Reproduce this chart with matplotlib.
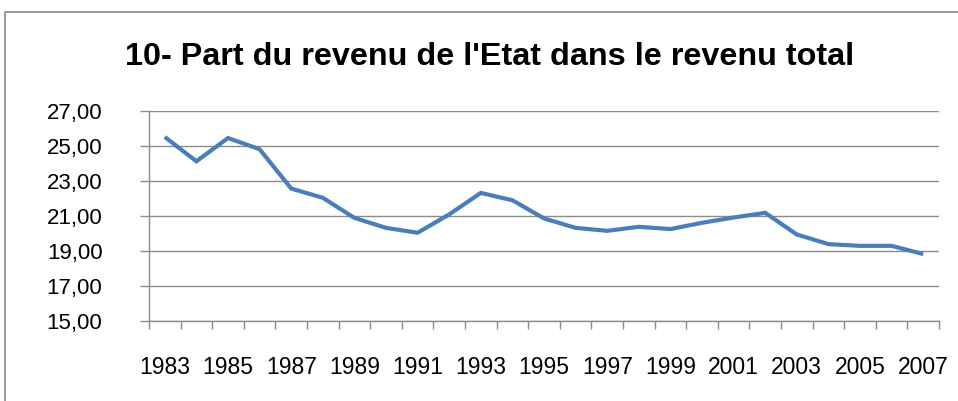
import matplotlib
matplotlib.use("Agg")
import matplotlib.pyplot as plt
from matplotlib.patches import Rectangle
import numpy as np

years = list(range(1983, 2008))
values = [25.53, 24.14, 25.47, 24.83, 22.58, 22.05, 20.90, 20.33, 20.05, 21.10,
          22.33, 21.91, 20.87, 20.33, 20.16, 20.39, 20.26, 20.62, 20.92, 21.19,
          19.95, 19.40, 19.30, 19.30, 18.83]
title = "10- Part du revenu de l'Etat dans le revenu total"
yticks = [15, 17, 19, 21, 23, 25, 27]

W, H = 958, 401
fig = plt.figure(figsize=(W / 100, H / 100), dpi=100)
fig.patch.set_facecolor("white")

# outer chart frame (only left/top visible)
fig.patches.append(Rectangle((5 / W, -0.1), 1.2, (1 - 12 / H) + 0.1,
                             transform=fig.transFigure, fill=False,
                             edgecolor="#8a8a8a", linewidth=1.2))

left, right = 149 / W, 939 / W
bottom, top = 1 - 321 / H, 1 - 111.3 / H
ax = fig.add_axes([left, bottom, right - left, top - bottom])

x = np.arange(len(years))
ax.plot(x, values, color="#4a7ebb", linewidth=3.0, solid_joinstyle="miter",
        solid_capstyle="butt")

ax.set_xlim(-0.5, len(years) - 0.5)
ax.set_ylim(15, 27)
ax.set_yticks(yticks)
ax.set_yticklabels([f"{v:.2f}".replace(".", ",") for v in yticks],
                   fontsize=16, family=["Liberation Sans", "DejaVu Sans"])
ax.yaxis.grid(True, color="#8c8c8c", linewidth=1.0)
ax.set_axisbelow(True)

ax.set_xticks(x[::2])
ax.set_xticklabels([str(y) for y in years[::2]], fontsize=16.5,
                   family=["Liberation Sans", "DejaVu Sans"])
ax.set_xticks(np.arange(-0.5, len(years)), minor=True)
ax.tick_params(axis="x", which="major", length=0, pad=25)
ax.tick_params(axis="x", which="minor", length=6, color="#8c8c8c", width=1.0,
               direction="out")
ax.tick_params(axis="y", which="major", length=6.5, color="#8c8c8c", width=1.0,
               pad=27)

for s in ("top", "right"):
    ax.spines[s].set_visible(False)
for s in ("left", "bottom"):
    ax.spines[s].set_color("#8c8c8c")
    ax.spines[s].set_linewidth(1.0)

fig.text(490 / W, 1 - 57 / H, title, ha="center", va="center",
         fontsize=23.3, fontweight="bold",
         family=["Liberation Sans", "DejaVu Sans"])

fig.savefig("out.png", dpi=100, facecolor="white")
